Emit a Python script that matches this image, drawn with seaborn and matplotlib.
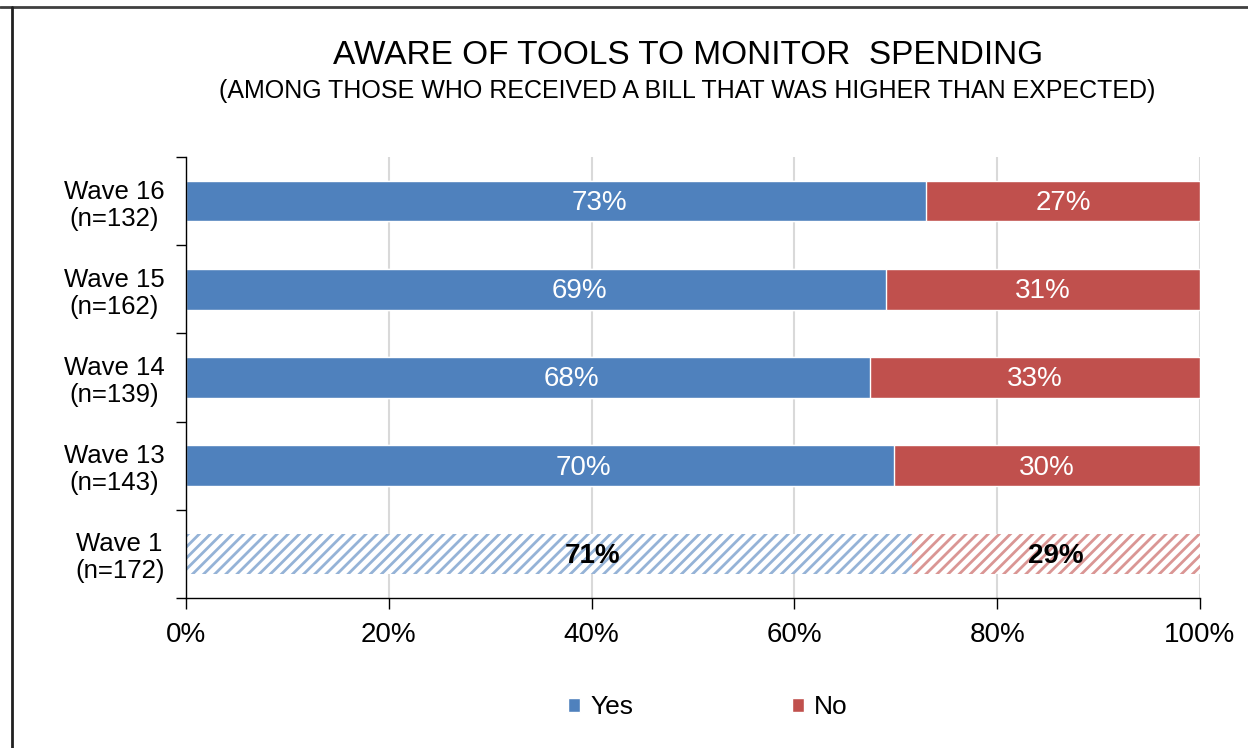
import numpy as np
import pandas as pd
import matplotlib.pyplot as plt
import seaborn as sns
from matplotlib.lines import Line2D
from matplotlib.patches import Patch

# data
waves = ['Wave 16\n(n=132)', 'Wave 15\n(n=162)', 'Wave 14\n(n=139)',
         'Wave 13\n(n=143)', 'Wave 1\n(n=172)']
yes_pct = [73.0, 69.0, 67.5, 69.8, 71.6]
no_pct = [27.0, 31.0, 32.5, 30.2, 28.4]
yes_labels = ['73%', '69%', '68%', '70%', '71%']
no_labels = ['27%', '31%', '33%', '30%', '29%']
x_ticks = [0, 20, 40, 60, 80, 100]
x_tick_labels = ['0%', '20%', '40%', '60%', '80%', '100%']

blue = '#4F81BD'
red = '#C0504D'
blue_hatch = '#95B3D7'
red_hatch = '#DA9694'

sns.set_style('white')
plt.rcParams['font.family'] = ['Liberation Sans', 'DejaVu Sans']
plt.rcParams['text.color'] = 'black'
plt.rcParams['xtick.color'] = 'black'
plt.rcParams['ytick.color'] = 'black'
plt.rcParams['hatch.linewidth'] = 2.0

df = pd.DataFrame({'wave': waves, 'yes': yes_pct, 'no': no_pct})
df['total'] = df['yes'] + df['no']

fig = plt.figure(figsize=(12.48, 7.48), dpi=100)
ax = fig.add_axes([0.149, 0.2005, 0.8125, 0.5895])

# full bar in red, yes part drawn over it in blue
sns.barplot(data=df, x='total', y='wave', color=red, saturation=1, width=0.46,
            edgecolor='white', linewidth=1, ax=ax)
sns.barplot(data=df, x='yes', y='wave', color=blue, saturation=1, width=0.46,
            edgecolor='white', linewidth=1, ax=ax)

# Wave 1 is hatched (last row)
n = len(waves)
for patch, col in [(ax.patches[n - 1], red_hatch), (ax.patches[2 * n - 1], blue_hatch)]:
    patch.set_facecolor('white')
    patch.set_edgecolor(col)
    patch.set_linewidth(0)
    patch.set_hatch('///')
    if hasattr(patch, 'set_hatchcolor'):
        patch.set_hatchcolor(col)

# value labels (the yes labels sit a little right of the segment middle)
for i in range(n):
    hatched = i == n - 1
    kw = dict(ha='center', va='center', fontsize=20,
              color='black' if hatched else 'white',
              fontweight='bold' if hatched else 'normal')
    ax.text(yes_pct[i] / 2 + 4.3, i + 0.02, yes_labels[i], **kw)
    ax.text(yes_pct[i] + no_pct[i] / 2, i + 0.02, no_labels[i], **kw)

ax.set_xlim(0, 100)
ax.set_ylim(n - 0.5, -0.5)
ax.set_xticks(x_ticks)
ax.set_xticklabels(x_tick_labels, fontsize=20)
ax.set_xlabel('')
ax.set_ylabel('')
ax.tick_params(axis='x', length=8, width=1, color='black', pad=9, bottom=True)
ax.tick_params(axis='y', which='major', length=0, pad=15.5, labelsize=18.5)
ax.set_yticks(np.arange(-0.5, n, 1.0), minor=True)
ax.tick_params(axis='y', which='minor', length=7, width=1, color='black', left=True)
for lab in ax.get_yticklabels():
    lab.set_multialignment('center')
    lab.set_linespacing(1.15)

ax.xaxis.grid(True, color='#D9D9D9', linewidth=1.5)
ax.set_axisbelow(True)
sns.despine(ax=ax, top=True, right=True)
for s in ['left', 'bottom']:
    ax.spines[s].set_color('black')
    ax.spines[s].set_linewidth(1)

# titles
fig.text(0.551, 1 - 56 / 748, 'AWARE OF TOOLS TO MONITOR  SPENDING',
         ha='center', va='center', fontsize=24)
fig.text(0.551, 1 - 91 / 748,
         '(AMONG THOSE WHO RECEIVED A BILL THAT WAS HIGHER THAN EXPECTED)',
         ha='center', va='center', fontsize=18)

# legend
handles = [Patch(facecolor=blue, label='Yes'), Patch(facecolor=red, label='No')]
fig.legend(handles=handles, loc='center', bbox_to_anchor=(708 / 1248, 1 - 707 / 748),
           ncol=2, frameon=False, fontsize=19, handlelength=0.45, handleheight=0.45,
           handletextpad=0.4, columnspacing=6.0)

# frame lines on top and left
fig.add_artist(Line2D([0, 1], [1 - 7 / 748] * 2, transform=fig.transFigure,
                      color='#404040', lw=2))
fig.add_artist(Line2D([12 / 1248] * 2, [0, 1 - 7 / 748], transform=fig.transFigure,
                      color='#202020', lw=2))

fig.savefig('out.png', dpi=100)
